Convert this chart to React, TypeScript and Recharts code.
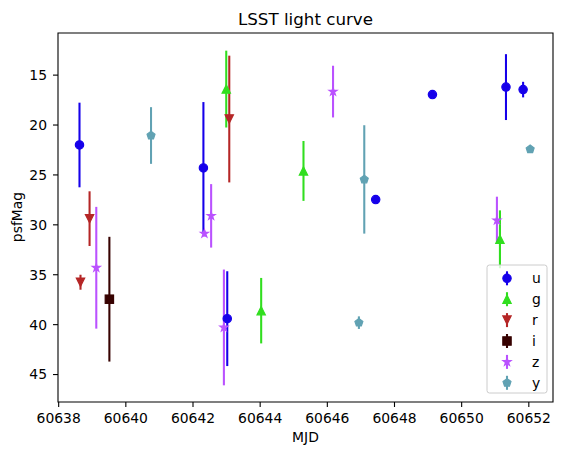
import React from 'react';
import { ComposedChart, Scatter, XAxis, YAxis, ErrorBar, ReferenceArea } from 'recharts';

type Obs = { mjd: number; mag: number; err: number };

// Per-band photometry: MJD, PSF magnitude and its 1-sigma uncertainty
const U_OBS: Obs[] = [
  { mjd: 60638.62, mag: 22.0, err: 4.24 },
  { mjd: 60642.31, mag: 24.3, err: 6.6 },
  { mjd: 60643.02, mag: 39.4, err: 4.75 },
  { mjd: 60647.44, mag: 27.47, err: 0.3 },
  { mjd: 60649.13, mag: 16.95, err: 0.3 },
  { mjd: 60651.32, mag: 16.2, err: 3.3 },
  { mjd: 60651.83, mag: 16.45, err: 0.78 },
];
const G_OBS: Obs[] = [
  { mjd: 60642.99, mag: 16.4, err: 3.85 },
  { mjd: 60644.03, mag: 38.6, err: 3.28 },
  { mjd: 60645.29, mag: 24.6, err: 3.0 },
  { mjd: 60651.14, mag: 31.45, err: 2.9 },
];
const R_OBS: Obs[] = [
  { mjd: 60638.65, mag: 35.75, err: 0.75 },
  { mjd: 60638.92, mag: 29.38, err: 2.74 },
  { mjd: 60643.08, mag: 19.4, err: 6.35 },
];
const I_OBS: Obs[] = [{ mjd: 60639.51, mag: 37.45, err: 6.25 }];
const Z_OBS: Obs[] = [
  { mjd: 60639.12, mag: 34.3, err: 6.1 },
  { mjd: 60642.34, mag: 30.88, err: 0.3 },
  { mjd: 60642.54, mag: 29.1, err: 3.18 },
  { mjd: 60642.92, mag: 40.28, err: 5.8 },
  { mjd: 60646.17, mag: 16.65, err: 2.59 },
  { mjd: 60651.05, mag: 29.55, err: 2.37 },
];
const Y_OBS: Obs[] = [
  { mjd: 60640.75, mag: 21.05, err: 2.84 },
  { mjd: 60646.94, mag: 39.8, err: 0.63 },
  { mjd: 60647.1, mag: 25.45, err: 5.43 },
  { mjd: 60652.04, mag: 22.43, err: 0.3 },
];

const BAND_NAMES = ['u', 'g', 'r', 'i', 'z', 'y'];
const MJD_TICKS = [60638, 60640, 60642, 60644, 60646, 60648, 60650, 60652];
const MAG_TICKS = [15, 20, 25, 30, 35, 40, 45];
const MJD_RANGE: [number, number] = [60637.98, 60652.72];
const MAG_RANGE: [number, number] = [10.78, 47.75];

type MarkerKind = 'circle' | 'tri-up' | 'tri-down' | 'square' | 'star' | 'pentagon';

const BAND_DATA: Obs[][] = [U_OBS, G_OBS, R_OBS, I_OBS, Z_OBS, Y_OBS];
const BAND_COLORS = ['#1600ea', '#31de1f', '#b52626', '#370201', '#ba52ff', '#61a2b3'];
const BAND_MARKERS: MarkerKind[] = ['circle', 'tri-up', 'tri-down', 'square', 'star', 'pentagon'];

const FONT = "'DejaVu Sans', sans-serif";
const W = 562;
const H = 455;
const BAR_WIDTH = 2.08;
const EDGE_WIDTH = 1.2;
const SPINE_WIDTH = 1.1;

function polyPoints(cx: number, cy: number, n: number, rOuter: number, rInner?: number): string {
  const pts: string[] = [];
  const count = rInner !== undefined ? n * 2 : n;
  for (let k = 0; k < count; k++) {
    const ang = (-90 + (k * 360) / count) * (Math.PI / 180);
    const r = rInner !== undefined && k % 2 === 1 ? rInner : rOuter;
    pts.push(`${(cx + r * Math.cos(ang)).toFixed(2)},${(cy + r * Math.sin(ang)).toFixed(2)}`);
  }
  return pts.join(' ');
}

function Marker({ kind, cx, cy, color }: { kind: MarkerKind; cx: number; cy: number; color: string }) {
  const r = 4.17;
  const common = { fill: color, stroke: color, strokeWidth: EDGE_WIDTH, strokeLinejoin: 'miter' as const };
  if (cx == null || cy == null || isNaN(cx) || isNaN(cy)) return null;
  switch (kind) {
    case 'circle':
      return <circle cx={cx} cy={cy} r={r} {...common} />;
    case 'tri-up':
      return <polygon points={`${cx},${cy - r} ${cx - r},${cy + r} ${cx + r},${cy + r}`} {...common} />;
    case 'tri-down':
      return <polygon points={`${cx},${cy + r} ${cx - r},${cy - r} ${cx + r},${cy - r}`} {...common} />;
    case 'square':
      return <rect x={cx - r} y={cy - r} width={2 * r} height={2 * r} {...common} />;
    case 'star':
      return <polygon points={polyPoints(cx, cy, 5, r, r * 0.381966)} {...common} />;
    case 'pentagon':
      return <polygon points={polyPoints(cx, cy, 5, r)} {...common} />;
  }
  return null;
}

function Legend() {
  const x0 = 487;
  const y0 = 265;
  const rowH = 20.9;
  return (
    <g>
      <rect x={x0} y={y0} width={60} height={128} rx={2.5} fill="#fff" fillOpacity={0.8} stroke="#cccccc" strokeWidth={1} />
      {BAND_NAMES.map((name, i) => {
        const cy = y0 + 13.3 + i * rowH;
        const cx = 507;
        return (
          <g key={name}>
            <line x1={cx} x2={cx} y1={cy - 7} y2={cy + 7} stroke={BAND_COLORS[i]} strokeWidth={BAR_WIDTH} />
            <Marker kind={BAND_MARKERS[i]} cx={cx} cy={cy} color={BAND_COLORS[i]} />
            <text x={532} y={cy} dy="0.35em" fontSize={13.9} fontFamily={FONT} fill="#000">
              {name}
            </text>
          </g>
        );
      })}
    </g>
  );
}

export default function App() {
  return (
    <div style={{ position: 'absolute', left: 0, top: 0, width: W, height: H, background: '#fff' }}>
      <ComposedChart width={W} height={H} margin={{ top: 33, right: 9, bottom: 0, left: 0 }}>
        <XAxis
          type="number"
          dataKey="mjd"
          domain={MJD_RANGE}
          ticks={MJD_TICKS}
          allowDataOverflow
          interval={0}
          height={53}
          tickSize={5}
          tickMargin={6}
          axisLine={false}
          tickLine={{ stroke: '#000', strokeWidth: SPINE_WIDTH }}
          tick={{ fill: '#000', fontSize: 13.9, fontFamily: FONT }}
        />
        <YAxis
          type="number"
          dataKey="mag"
          reversed
          domain={MAG_RANGE}
          ticks={MAG_TICKS}
          allowDataOverflow
          interval={0}
          width={58}
          tickSize={5}
          tickMargin={6}
          axisLine={false}
          tickLine={{ stroke: '#000', strokeWidth: SPINE_WIDTH }}
          tick={{ fill: '#000', fontSize: 13.9, fontFamily: FONT }}
        />
        {BAND_NAMES.map((name, i) => (
          <Scatter
            key={name}
            name={name}
            data={BAND_DATA[i]}
            fill={BAND_COLORS[i]}
            isAnimationActive={false}
            shape={(p: any) => <Marker kind={BAND_MARKERS[i]} cx={p.cx} cy={p.cy} color={BAND_COLORS[i]} />}
          >
            <ErrorBar
              dataKey="err"
              direction="y"
              width={0}
              stroke={BAND_COLORS[i]}
              strokeWidth={BAR_WIDTH}
              isAnimationActive={false}
            />
          </Scatter>
        ))}
        <ReferenceArea
          x1={MJD_RANGE[0]}
          x2={MJD_RANGE[1]}
          y1={MAG_RANGE[0]}
          y2={MAG_RANGE[1]}
          fill="none"
          fillOpacity={0}
          stroke="#000"
          strokeWidth={SPINE_WIDTH}
          ifOverflow="visible"
        />
      </ComposedChart>
      <svg
        width={W}
        height={H}
        style={{ position: 'absolute', left: 0, top: 0, pointerEvents: 'none' }}
      >
        <text x={305.5} y={24.5} textAnchor="middle" fontSize={16.7} fontFamily={FONT} fill="#000">
          LSST light curve
        </text>
        <text x={305.5} y={441.5} textAnchor="middle" fontSize={13.9} fontFamily={FONT} fill="#000">
          MJD
        </text>
        <text
          x={0}
          y={0}
          textAnchor="middle"
          fontSize={13.9}
          fontFamily={FONT}
          fill="#000"
          transform="translate(21.8 217) rotate(-90)"
        >
          psfMag
        </text>
        <Legend />
      </svg>
    </div>
  );
}
